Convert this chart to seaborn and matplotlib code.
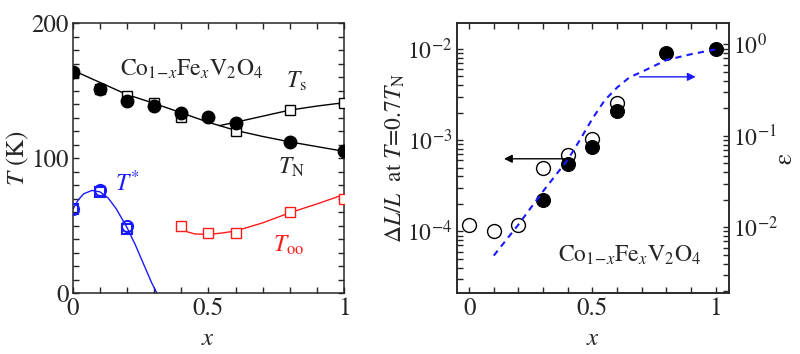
import numpy as np
import matplotlib
matplotlib.use('Agg')
import matplotlib.pyplot as plt
from matplotlib.ticker import MultipleLocator, LogLocator, NullFormatter
import seaborn as sns

# --- left panel: phase diagram ---
x_tn = [0, 0.1, 0.2, 0.3, 0.4, 0.5, 0.6, 0.8, 1.0]
t_n = [164, 151.5, 142.5, 138.5, 133, 130.5, 126, 112, 105]
x_ts = [0, 0.1, 0.2, 0.3, 0.4, 0.6, 0.8, 1.0]
t_s = [163, 151, 146, 141, 130.5, 120, 135.5, 140.5]
x_star = [0, 0.1, 0.2]
t_star_circ = [62, 76, 49.5]
t_star_sq = [62, 75, 47.5]
x_oo = [0.4, 0.5, 0.6, 0.8, 1.0]
t_oo = [50, 44.5, 44.5, 60, 70]

# guide curves
line_n_x = [0, 0.1, 0.2, 0.3, 0.4, 0.5, 0.6, 0.7, 0.8, 0.9, 1.0]
line_n_y = [165, 156, 147, 140.5, 133.5, 126.5, 120.5, 116, 112, 108.5, 105]
line_s_x = [0.54, 0.6, 0.7, 0.8, 0.9, 1.0]
line_s_y = [124, 126.5, 131, 135.5, 138.5, 141]
line_star_x = [0, 0.02, 0.04, 0.07, 0.1, 0.13, 0.16, 0.2, 0.23, 0.26, 0.29, 0.31]
line_star_y = [62, 69, 73.5, 76, 75, 70.5, 62.5, 48.5, 36, 22, 8, 0]
line_oo_x = [0.4, 0.42, 0.45, 0.5, 0.55, 0.6, 0.7, 0.8, 0.9, 1.0]
line_oo_y = [49, 45.5, 43.8, 43.5, 44.5, 46, 52, 59.5, 66, 73]

# --- right panel: magnetostriction ---
x_open = [0, 0.1, 0.2, 0.3, 0.4, 0.5, 0.6]
dl_open = [1.18e-4, 1.02e-4, 1.18e-4, 5.0e-4, 6.8e-4, 1.02e-3, 2.56e-3]
x_fill = [0.3, 0.4, 0.5, 0.6, 0.8, 1.0]
dl_fill = [2.23e-4, 5.5e-4, 8.4e-4, 2.09e-3, 8.95e-3, 9.9e-3]
x_eps = [0.1, 0.2, 0.3, 0.4, 0.45, 0.5, 0.55, 0.6, 0.65, 0.7, 0.8, 0.9, 1.0]
eps = [4.9e-3, 0.0107, 0.0248, 0.0548, 0.0908, 0.154, 0.245, 0.337, 0.435, 0.50, 0.673, 0.78, 0.88]

formula = 'Co$_{1\\!-\\!x}$Fe$_x$V$_2$O$_4$'

sns.set_style('ticks')
plt.rcParams['font.family'] = ['STIXGeneral', 'DejaVu Serif']
plt.rcParams['mathtext.fontset'] = 'stix'
plt.rcParams['font.size'] = 18
plt.rcParams['axes.linewidth'] = 1.1

fig = plt.figure(figsize=(8, 3.54), dpi=100)
ax1 = fig.add_axes([0.091, 0.172, 0.339, 0.763])
ax2 = fig.add_axes([0.571, 0.172, 0.340, 0.763])

blue = '#1a1aff'
red = '#ff1a1a'

# left panel lines
sns.lineplot(x=line_n_x, y=line_n_y, ax=ax1, color='black', lw=1, sort=False)
sns.lineplot(x=line_s_x, y=line_s_y, ax=ax1, color='black', lw=1, sort=False)
sns.lineplot(x=line_star_x, y=line_star_y, ax=ax1, color=blue, lw=1, sort=False)
sns.lineplot(x=line_oo_x, y=line_oo_y, ax=ax1, color=red, lw=1, sort=False)

ax1.plot(x_ts, t_s, 's', mfc='white', mec='black', ms=7, mew=1, zorder=3)
ax1.plot(x_tn, t_n, 'o', color='black', ms=9, zorder=4)
ax1.plot(x_star, t_star_sq, 's', mfc='none', mec=blue, ms=7, mew=1.5, zorder=3)
ax1.plot(x_star, t_star_circ, 'o', mfc='none', mec=blue, ms=8, mew=1.5, zorder=3)
ax1.plot(x_oo, t_oo, 's', mfc='white', mec=red, ms=7, mew=1, zorder=3)

ax1.set_xlim(0, 1)
ax1.set_ylim(0, 200)
ax1.xaxis.set_major_locator(MultipleLocator(0.5))
ax1.xaxis.set_minor_locator(MultipleLocator(0.1))
ax1.yaxis.set_major_locator(MultipleLocator(100))
ax1.yaxis.set_minor_locator(MultipleLocator(10))
ax1.xaxis.set_major_formatter(plt.FuncFormatter(lambda v, p: f'{v:g}'))
ax1.set_xlabel('$x$', labelpad=4)
ax1.set_ylabel('$T$ (K)', labelpad=0)

ax1.text(0.44, 166, formula, ha='center', va='center', fontsize=17)
ax1.text(0.825, 157, '$T_{\\rm s}$', ha='center', va='center', fontsize=17)
ax1.text(0.806, 93, '$T_{\\rm N}$', ha='center', va='center', fontsize=17)
ax1.text(0.2, 81, '$T^{*}$', ha='center', va='center', fontsize=17, color=blue)
ax1.text(0.795, 35, '$T_{\\rm oo}$', ha='center', va='center', fontsize=17, color=red)

# right panel
sns.scatterplot(x=x_open, y=dl_open, ax=ax2, s=100, facecolor='white', edgecolor='black', linewidth=1, zorder=3)
sns.scatterplot(x=x_fill, y=dl_fill, ax=ax2, s=100, color='black', edgecolor='black', zorder=4)
ax2.set_yscale('log')
ax2.set_xlim(-0.05, 1.053)
ax2.set_ylim(2.1e-5, 1.93e-2)
ax2.xaxis.set_major_locator(MultipleLocator(0.5))
ax2.xaxis.set_minor_locator(MultipleLocator(0.1))
ax2.xaxis.set_major_formatter(plt.FuncFormatter(lambda v, p: f'{v:g}'))
ax2.yaxis.set_major_locator(LogLocator(base=10, numticks=10))
ax2.yaxis.set_minor_locator(LogLocator(base=10, subs=np.arange(2, 10), numticks=20))
ax2.yaxis.set_minor_formatter(NullFormatter())
ax2.set_xlabel('$x$', labelpad=4)
ax2.set_ylabel('$\\Delta L/L$  at $T$=0.7$T_{\\rm N}$', labelpad=0, fontsize=17)

ax2.annotate('', xy=(0.13, 6.25e-4), xytext=(0.395, 6.25e-4),
             arrowprops=dict(arrowstyle='-|>', color='black', lw=1, mutation_scale=12))
ax2.text(0.652, 5.4e-5, formula, ha='center', va='center', fontsize=17)

ax3 = ax2.twinx()
sns.lineplot(x=x_eps, y=eps, ax=ax3, color=blue, lw=1.5, ls=(0, (3, 2.5)), sort=False)
ax3.set_yscale('log')
ax3.set_ylim(10 ** -2.72, 10 ** 0.233)
ax3.yaxis.set_major_locator(LogLocator(base=10, numticks=10))
ax3.yaxis.set_minor_locator(LogLocator(base=10, subs=np.arange(2, 10), numticks=20))
ax3.yaxis.set_minor_formatter(NullFormatter())
ax3.set_ylabel('\u03b5')
ax3.yaxis.set_label_coords(1.165, 0.5)
ax3.annotate('', xy=(0.93, 0.441), xytext=(0.68, 0.441),
             arrowprops=dict(arrowstyle='-|>', color=blue, lw=1, mutation_scale=12))

for ax in (ax1, ax2):
    ax.tick_params(which='both', direction='in', top=True, length=4, width=1, labelsize=18, pad=3)
ax1.tick_params(which='both', right=True)
ax2.tick_params(which='both', right=False)
ax2.tick_params(axis='y', labelsize=17)
ax3.tick_params(which='both', direction='in', length=4, width=1, labelsize=17, pad=3)
for ax in (ax1, ax2, ax3):
    for s in ax.spines.values():
        s.set_visible(True)

fig.savefig('out.png', dpi=100)
